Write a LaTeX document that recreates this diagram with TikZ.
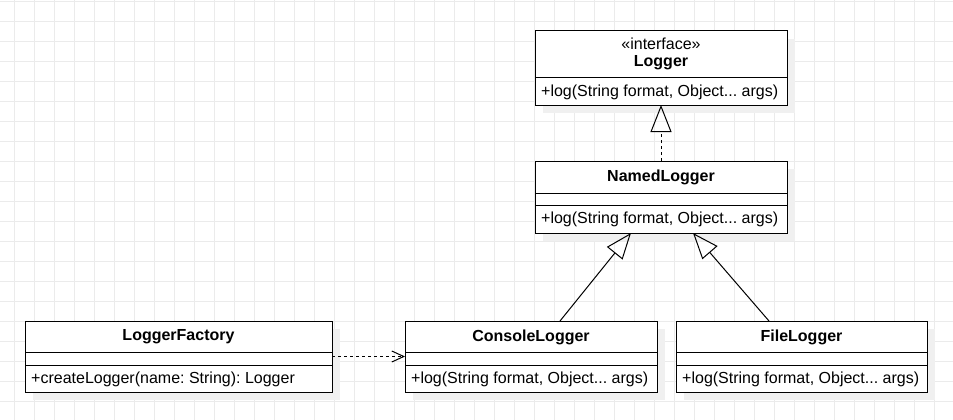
\documentclass[tikz,border=0pt]{standalone}
\usepackage{fontspec}
\setmainfont{Liberation Sans}
\usetikzlibrary{arrows.meta}
\frenchspacing
\begin{document}
\begin{tikzpicture}[x=1pt,y=-1pt,
  gridline/.style={draw=black!8, line width=0.8pt},
  shadowc/.style={fill=black!6},
  classbox/.style={draw=black, line width=1pt, fill=white, inner sep=0pt, outer sep=0pt, anchor=north west},
  sepline/.style={draw=black, line width=1pt},
  titletext/.style={font=\bfseries\fontsize{16}{18}\selectfont, inner sep=0pt},
  stereotext/.style={font=\fontsize{16}{18}\selectfont, inner sep=0pt},
  membertext/.style={font=\fontsize{16}{18}\selectfont, inner sep=0pt, anchor=west},
  conn/.style={draw=black, line width=1pt},
  dashconn/.style={conn, dash pattern=on 3pt off 3pt}
]
\useasboundingbox (0,0) rectangle (953,420);
\fill[white] (0,0) rectangle (953,420);
\foreach \x in {14,34,...,954} \draw[gridline] (\x,0) -- (\x,420);
\foreach \y in {1,21,...,420} \draw[gridline] (0,\y) -- (953,\y);

% Logger
\fill[shadowc] (543,39) rectangle (795,113);
\node[classbox, minimum width=252pt, minimum height=74pt] (logger) at (535,31) {};
\draw[sepline] (535,78) -- (787,78);
\node[stereotext] (loggerst) at (661,44) {«interface»};
\node[titletext] (loggert) at (661,63) {Logger};
\node[membertext] (loggerm) at (541,92) {+log(String format, Object... args)};

% NamedLogger
\fill[shadowc] (543,169) rectangle (795,241);
\node[classbox, minimum width=252pt, minimum height=72pt] (named) at (535,161) {};
\draw[sepline] (535,193) -- (787,193);
\draw[sepline] (535,205) -- (787,205);
\node[titletext] (namedt) at (661,177) {NamedLogger};
\node[membertext] (namedm) at (541,219) {+log(String format, Object... args)};

% LoggerFactory
\fill[shadowc] (33,329) rectangle (340,400);
\node[classbox, minimum width=307pt, minimum height=71pt] (factory) at (25,321) {};
\draw[sepline] (25,352) -- (332,352);
\draw[sepline] (25,365) -- (332,365);
\node[titletext] (factoryt) at (178.5,337) {LoggerFactory};
\node[membertext] (factorym) at (31,379) {+createLogger(name: String): Logger};

% ConsoleLogger
\fill[shadowc] (413,329) rectangle (665,400);
\node[classbox, minimum width=252pt, minimum height=71pt] (console) at (405,321) {};
\draw[sepline] (405,352) -- (657,352);
\draw[sepline] (405,365) -- (657,365);
\node[titletext] (consolet) at (531,337) {ConsoleLogger};
\node[membertext] (consolem) at (411,379) {+log(String format, Object... args)};

% FileLogger
\fill[shadowc] (684,329) rectangle (935,400);
\node[classbox, minimum width=251pt, minimum height=71pt] (file) at (676,321) {};
\draw[sepline] (676,352) -- (927,352);
\draw[sepline] (676,365) -- (927,365);
\node[titletext] (filet) at (801.5,337) {FileLogger};
\node[membertext] (filem) at (682,379) {+log(String format, Object... args)};

% connectors
\draw[dashconn, -{Triangle[open,length=27pt,width=21pt,line width=1pt]}] (named.north) -- (logger.south);
\draw[conn, -{Triangle[open,length=26pt,width=20pt,line width=1pt]}] ([xshift=29pt]console.north) -- ([xshift=-30pt]named.south);
\draw[conn, -{Triangle[open,length=26pt,width=20pt,line width=1pt]}] ([xshift=-32.5pt]file.north) -- ([xshift=32pt]named.south);
\draw[dashconn, -{Straight Barb[length=12pt,width=11pt,line width=1pt]}] (factory.east) -- (console.west);
\end{tikzpicture}
\end{document}
